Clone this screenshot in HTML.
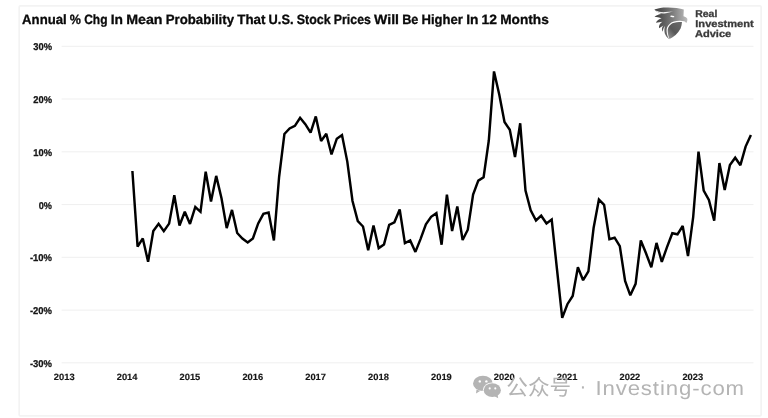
<!DOCTYPE html>
<html><head><meta charset="utf-8"><title>Annual % Chg In Mean Probability</title>
<style>
html,body{margin:0;padding:0;background:#fff;}
body{width:768px;height:418px;overflow:hidden;font-family:"Liberation Sans",sans-serif;}
svg{display:block}
svg text{font-family:"Liberation Sans",sans-serif;text-rendering:geometricPrecision;}
.ax text{font-weight:bold;font-size:9.1px;fill:#161616;stroke:#161616;stroke-width:0.15px;}
.ax text.yl{font-size:9.9px;stroke-width:0.28px;}
.grid line{stroke:#efefef;stroke-width:1;}
</style></head><body>
<svg width="768" height="418" viewBox="0 0 768 418">
<defs>
<linearGradient id="eg" x1="0" y1="0" x2="1" y2="0"><stop offset="0" stop-color="#3c3c3c"/><stop offset="0.55" stop-color="#7c7c7c"/><stop offset="1" stop-color="#bdbdbd"/></linearGradient>
<linearGradient id="sg" x1="0" y1="1" x2="0.9" y2="0"><stop offset="0" stop-color="#9a9a9a"/><stop offset="0.45" stop-color="#585858"/><stop offset="1" stop-color="#6a6a6a"/></linearGradient>
</defs>
<rect x="0" y="0" width="768" height="418" fill="#fff"/>
<rect x="19.2" y="5.9" width="741.9" height="410.0" rx="1.2" fill="none" stroke="#f3f3f3" stroke-width="1.7"/>
<g class="grid">
<line x1="61.6" x2="753.5" y1="46.3" y2="46.3"/>
<line x1="61.6" x2="753.5" y1="99.0" y2="99.0"/>
<line x1="61.6" x2="753.5" y1="151.8" y2="151.8"/>
<line x1="61.6" x2="753.5" y1="204.6" y2="204.6"/>
<line x1="61.6" x2="753.5" y1="257.3" y2="257.3"/>
<line x1="61.6" x2="753.5" y1="310.1" y2="310.1"/>
<line x1="61.6" x2="753.5" y1="362.8" y2="362.8"/>
</g>
<g font-weight="bold" font-size="13.5" fill="#0a0a0a" stroke="#0a0a0a" stroke-width="0.3">
<text y="23.55"><tspan x="22.10" textLength="44.57" lengthAdjust="spacingAndGlyphs">Annual</tspan> <tspan x="69.87" textLength="11.14" lengthAdjust="spacingAndGlyphs">%</tspan> <tspan x="84.21" textLength="23.32" lengthAdjust="spacingAndGlyphs">Chg</tspan> <tspan x="110.73" textLength="12.26" lengthAdjust="spacingAndGlyphs">In</tspan> <tspan x="126.18" textLength="36.35" lengthAdjust="spacingAndGlyphs">Mean</tspan> <tspan x="165.73" textLength="68.33" lengthAdjust="spacingAndGlyphs">Probability</tspan> <tspan x="237.25" textLength="28.17" lengthAdjust="spacingAndGlyphs">That</tspan> <tspan x="268.62" textLength="24.93" lengthAdjust="spacingAndGlyphs">U.S.</tspan> <tspan x="296.74" textLength="33.92" lengthAdjust="spacingAndGlyphs">Stock</tspan> <tspan x="333.85" textLength="37.05" lengthAdjust="spacingAndGlyphs">Prices</tspan> <tspan x="374.10" textLength="24.87" lengthAdjust="spacingAndGlyphs">Will</tspan> <tspan x="402.16" textLength="16.18" lengthAdjust="spacingAndGlyphs">Be</tspan> <tspan x="421.53" textLength="41.44" lengthAdjust="spacingAndGlyphs">Higher</tspan> <tspan x="466.16" textLength="12.26" lengthAdjust="spacingAndGlyphs">In</tspan> <tspan x="481.62" textLength="15.42" lengthAdjust="spacingAndGlyphs">12</tspan> <tspan x="500.23" textLength="48.57" lengthAdjust="spacingAndGlyphs">Months</tspan></text>
</g>
<g class="ax">
<text class="yl" x="33.3" y="50.2" textLength="18.7" lengthAdjust="spacingAndGlyphs">30%</text>
<text class="yl" x="33.3" y="103.0" textLength="18.7" lengthAdjust="spacingAndGlyphs">20%</text>
<text class="yl" x="33.3" y="155.7" textLength="18.7" lengthAdjust="spacingAndGlyphs">10%</text>
<text class="yl" x="38.8" y="208.5" textLength="13.2" lengthAdjust="spacingAndGlyphs">0%</text>
<text class="yl" x="29.9" y="261.2" textLength="22.1" lengthAdjust="spacingAndGlyphs">-10%</text>
<text class="yl" x="29.9" y="313.9" textLength="22.1" lengthAdjust="spacingAndGlyphs">-20%</text>
<text class="yl" x="29.9" y="366.7" textLength="22.1" lengthAdjust="spacingAndGlyphs">-30%</text>
<text x="53.8" y="380.1" textLength="20.8" lengthAdjust="spacingAndGlyphs">2013</text>
<text x="116.7" y="380.1" textLength="20.8" lengthAdjust="spacingAndGlyphs">2014</text>
<text x="179.5" y="380.1" textLength="20.8" lengthAdjust="spacingAndGlyphs">2015</text>
<text x="242.4" y="380.1" textLength="20.8" lengthAdjust="spacingAndGlyphs">2016</text>
<text x="305.2" y="380.1" textLength="20.8" lengthAdjust="spacingAndGlyphs">2017</text>
<text x="368.1" y="380.1" textLength="20.8" lengthAdjust="spacingAndGlyphs">2018</text>
<text x="431.0" y="380.1" textLength="20.8" lengthAdjust="spacingAndGlyphs">2019</text>
<text x="493.8" y="380.1" textLength="20.8" lengthAdjust="spacingAndGlyphs">2020</text>
<text x="556.7" y="380.1" textLength="20.8" lengthAdjust="spacingAndGlyphs">2021</text>
<text x="619.5" y="380.1" textLength="20.8" lengthAdjust="spacingAndGlyphs">2022</text>
<text x="682.4" y="380.1" textLength="20.8" lengthAdjust="spacingAndGlyphs">2023</text>
</g>
<polyline fill="none" stroke="#000" stroke-width="2.45" stroke-linejoin="miter" stroke-miterlimit="2.2" stroke-linecap="butt" points="132.4,171.0 137.6,246.7 142.8,238.4 148.1,261.8 153.3,231.1 158.6,223.8 163.8,231.1 169.1,223.6 174.3,195.2 179.5,225.5 184.8,211.7 190.0,223.9 195.3,207.0 200.5,211.8 205.7,171.7 211.0,201.5 216.2,175.9 221.5,198.3 226.7,228.1 232.0,209.9 237.2,233.0 242.4,238.5 247.7,242.4 252.9,238.4 258.2,223.4 263.4,213.8 268.6,212.5 273.9,240.4 279.1,177.0 284.4,134.0 289.6,128.4 294.9,125.9 300.1,117.8 305.3,124.2 310.6,132.6 315.8,116.4 321.1,141.0 326.3,133.7 331.5,154.4 336.8,138.7 342.0,135.0 347.3,161.6 352.5,201.0 357.8,221.1 363.0,226.5 368.2,250.3 373.5,225.4 378.7,248.1 384.0,244.4 389.2,224.8 394.4,222.3 399.7,209.5 404.9,243.1 410.2,240.5 415.4,251.9 420.7,238.6 425.9,224.3 431.1,216.8 436.4,213.2 441.6,244.7 446.9,194.7 452.1,231.0 457.3,206.5 462.6,240.0 467.8,229.7 473.1,194.5 478.3,180.6 483.6,177.2 488.8,140.5 494.0,71.4 499.3,94.7 504.5,122.0 509.8,129.8 515.0,157.1 520.2,123.3 525.5,190.6 530.7,210.2 536.0,220.5 541.2,215.7 546.5,223.5 551.7,219.6 556.9,268.5 562.2,317.9 567.4,304.2 572.7,296.0 577.9,267.3 583.1,280.2 588.4,271.3 593.6,228.0 598.9,199.5 604.1,204.8 609.4,239.1 614.6,237.7 619.8,246.1 625.1,281.0 630.3,295.3 635.6,283.8 640.8,240.5 646.0,253.3 651.3,267.3 656.5,242.9 661.8,261.8 667.0,247.2 672.3,233.2 677.5,234.3 682.7,226.0 688.0,256.1 693.2,216.8 698.5,151.6 703.7,190.7 708.9,200.0 714.2,220.7 719.4,163.1 724.7,190.0 729.9,164.9 735.2,157.7 740.4,165.2 745.6,146.6 750.9,135.1"/>
<!-- logo -->
<g id="logo">
<path d="M654.4 9.6 C658.2 7.7 663 7.3 668.2 7.4 C674 7.5 680 8.2 683.8 9.6 L683.5 16.2 C685.4 16.7 686.8 17.6 687.3 18.7 C687.6 20.3 687.1 21.9 686.2 23 C685.5 21.5 684.2 20.8 682 21.0 C677 20.4 672.4 21.5 670.1 23.4 C667.5 25.6 666.4 28.3 666.6 31 C666.7 34 667.7 37 669.3 39.3 C667.2 37.6 665.6 35.6 664.8 33.4 C664.2 31 664.3 28.4 665 26 C663.6 27.6 662.9 29.6 662.8 31.8 C661.4 29.8 661.6 27.4 663.4 25.4 C661.8 26.6 660.2 27.4 659.0 28.2 C658.6 25.6 660 23.4 662.4 21.8 C660.2 22.2 657.8 22.4 655.9 22.8 C656.8 20.6 659 19 661.6 18.2 C659.2 17.6 656.6 17 654.5 16.8 C656.2 15.2 658.8 14.2 661.4 13.9 C658.6 13 656 11.6 654.4 9.6 Z" fill="url(#eg)"/>
<path d="M655.0 10.3 C657.6 13.2 662 14.0 666 13.2 C669 12.6 671.4 11.9 673.6 11.5 C671 11.5 668.2 11.9 665.4 12.1 C661.4 12.3 658 11.7 655.0 10.3 Z" fill="#fff" opacity="0.92"/>
<path d="M682 22.1 C677 21.5 673 22.5 671 24.2 C668.6 26.2 667.5 28.6 667.7 31 C667.8 34 668.5 36.8 669.5 38.9 C673.6 37.2 678 33.6 680.6 28.4 C681.4 26.4 681.9 24.2 682 22.1 Z" fill="url(#sg)"/>
<ellipse cx="672.3" cy="16.4" rx="2.1" ry="0.75" fill="#fff" transform="rotate(6 672.2 16.2)"/>
<g font-weight="bold" font-size="9.9" fill="#3a3a3a" stroke="#3a3a3a" stroke-width="0.3">
<text x="695.3" y="17.3" textLength="22.0" lengthAdjust="spacingAndGlyphs">Real</text>
<text x="695.3" y="27.1" textLength="58.4" lengthAdjust="spacingAndGlyphs">Investment</text>
<text x="695.0" y="36.8" textLength="36.2" lengthAdjust="spacingAndGlyphs">Advice</text>
</g>
</g>
<!-- watermark -->
<g id="wm" fill="#b4b4b4">
<ellipse cx="482.9" cy="383.4" rx="9.9" ry="7.7"/>
<path d="M476.5 389.6 L476.0 393.5 L480.0 391.0 Z"/>
<ellipse cx="492.3" cy="390.15" rx="9.5" ry="7.75" fill="#fff"/>
<ellipse cx="492.3" cy="390.15" rx="8.6" ry="6.85"/>
<path d="M494.6 396.2 L498.2 398.3 L497.6 394.6 Z"/>
<g fill="#fff">
<circle cx="479.8" cy="381.4" r="1.2"/><circle cx="486.4" cy="381.4" r="1.2"/>
<circle cx="489.7" cy="388.4" r="1.05"/><circle cx="495.3" cy="388.4" r="1.05"/>
</g>
<text x="506.2" y="395.2" font-size="21.6" style="font-family:'Liberation Sans','Noto Sans CJK SC','WenQuanYi Zen Hei',sans-serif;font-weight:400" textLength="65" lengthAdjust="spacing">公众号</text>
<text x="579.4" y="393.4" font-size="20.5">·</text>
<text x="595.4" y="394.6" font-size="20.2" letter-spacing="0.8" textLength="149.6" lengthAdjust="spacingAndGlyphs">Investing-com</text>
</g>
</svg>
</body></html>
